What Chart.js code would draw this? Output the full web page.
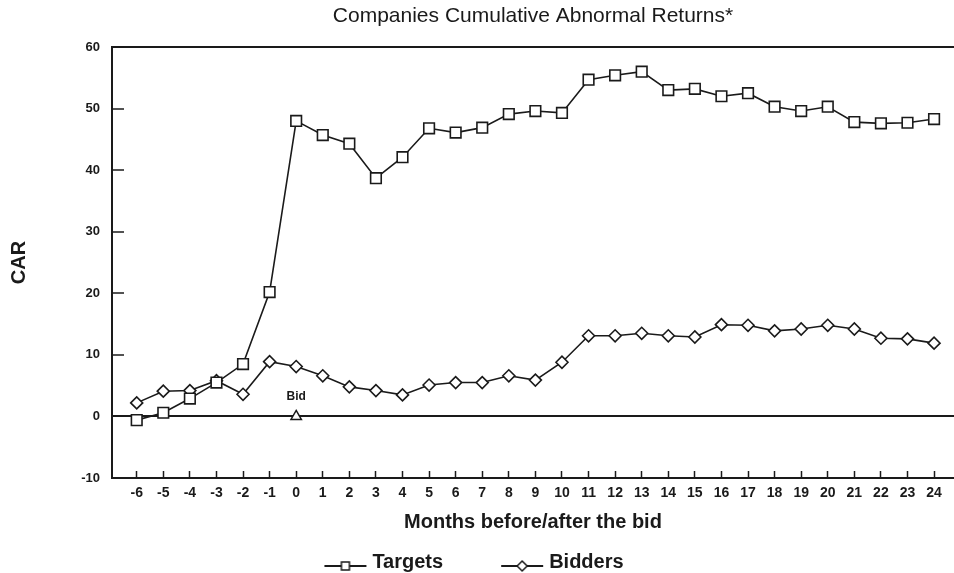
<!DOCTYPE html>
<html>
<head>
<meta charset="utf-8">
<script src="https://cdn.jsdelivr.net/npm/chart.js@4.4.1/dist/chart.umd.min.js"></script>
<style>
    html, body { margin: 0; padding: 0; background: #fff; }
</style>
</head>
<body>
<canvas id="car-chart" width="954" height="573"></canvas>
<script>
// months relative to the bid (0 = bid month)
const months = [-6, -5, -4, -3, -2, -1, 0, 1, 2, 3, 4, 5, 6, 7, 8, 9, 10, 11, 12, 13, 14, 15, 16, 17, 18, 19, 20, 21, 22, 23, 24];
// cumulative abnormal returns
const targetsCar = [-0.6, 0.6, 2.9, 5.5, 8.5, 20.2, 48.0, 45.7, 44.3, 38.7, 42.1, 46.8, 46.1, 46.9, 49.1, 49.6, 49.3, 54.7, 55.4, 56.0, 53.0, 53.2, 52.0, 52.5, 50.3, 49.6, 50.3, 47.8, 47.6, 47.7, 48.3];
const biddersCar = [2.2, 4.1, 4.2, 5.8, 3.6, 8.9, 8.1, 6.6, 4.8, 4.2, 3.5, 5.1, 5.5, 5.5, 6.6, 5.9, 8.8, 13.1, 13.1, 13.5, 13.1, 12.9, 14.9, 14.8, 13.9, 14.2, 14.8, 14.2, 12.7, 12.6, 11.9];
const yTicks = [-10, 0, 10, 20, 30, 40, 50, 60];
const seriesNames = ['Targets', 'Bidders'];
const bidMonth = 0;
const bidValue = 0;
const bidLabel = 'Bid';

const FONT = "'Liberation Sans', Arial, Helvetica, sans-serif";
const INK = '#1a1a1a';

// legend icons: short line with the marker on it, sitting just left of the text
function makeLegendIcon(shape) {
    const c = document.createElement('canvas');
    c.width = 60; c.height = 24;
    const g = c.getContext('2d');
    g.strokeStyle = INK; g.lineWidth = 2;
    g.beginPath(); g.moveTo(15, 16); g.lineTo(57, 16); g.stroke();
    g.fillStyle = '#fff'; g.lineWidth = 1.5;
    g.beginPath();
    if (shape === 'rect') {
        g.rect(32, 12, 8, 8);
    } else {
        g.moveTo(36, 11); g.lineTo(41, 16); g.lineTo(36, 21); g.lineTo(31, 16); g.closePath();
    }
    g.fill(); g.stroke();
    return c;
}
const legendIcons = [makeLegendIcon('rect'), makeLegendIcon('diamond')];

const toPoints = (vals) => months.map((m, i) => ({ x: m, y: vals[i] }));

const bidLabelPlugin = {
    id: 'bidLabel',
    afterDatasetsDraw(chart) {
        const { ctx, scales: { x, y } } = chart;
        ctx.save();
        ctx.font = `bold 12px ${FONT}`;
        ctx.fillStyle = INK;
        ctx.textAlign = 'center';
        ctx.textBaseline = 'middle';
        ctx.fillText(bidLabel, x.getPixelForValue(bidMonth), y.getPixelForValue(bidValue) - 20);
        ctx.restore();
    }
};

new Chart(document.getElementById('car-chart'), {
    type: 'line',
    data: {
        datasets: [{
            label: seriesNames[0],
            data: toPoints(targetsCar),
            borderColor: INK,
            borderWidth: 1.6,
            pointStyle: 'rect',
            pointRadius: 7.5,
            pointBorderWidth: 1.6,
            pointBackgroundColor: '#fff',
            pointBorderColor: INK,
            tension: 0
        }, {
            label: seriesNames[1],
            data: toPoints(biddersCar),
            borderColor: INK,
            borderWidth: 1.6,
            pointStyle: 'rectRot',
            pointRadius: 6,
            pointBorderWidth: 1.6,
            pointBackgroundColor: '#fff',
            pointBorderColor: INK,
            tension: 0
        }, {
            label: bidLabel,
            data: [{ x: bidMonth, y: bidValue }],
            showLine: false,
            pointStyle: 'triangle',
            pointRadius: 6,
            pointBorderWidth: 1.5,
            pointBackgroundColor: '#fff',
            pointBorderColor: INK
        }]
    },
    options: {
        responsive: false,
        animation: false,
        layout: {
            autoPadding: false,
            // negative left padding only moves the legend centre a bit to the left
            padding: { left: -14, top: 0, bottom: 0, right: 0 }
        },
        scales: {
            x: {
                type: 'linear',
                position: 'bottom',
                min: -6.93,
                max: 24.75,
                afterBuildTicks: (scale) => { scale.ticks = months.map(v => ({ value: v })); },
                afterFit: (scale) => { scale.height = 24; },
                ticks: {
                    autoSkip: false,
                    maxRotation: 0,
                    padding: 7,
                    color: INK,
                    font: { family: FONT, size: 14, weight: 'bold', lineHeight: 2.2 }
                },
                grid: {
                    drawOnChartArea: false,
                    drawTicks: true,
                    tickLength: -7,
                    tickColor: INK,
                    tickWidth: 1.5
                },
                border: { display: true, color: INK, width: 2 },
                title: {
                    display: true,
                    text: 'Months before/after the bid',
                    color: INK,
                    font: { family: FONT, size: 20, weight: 'bold' },
                    padding: { top: 0, bottom: -32 }
                }
            },
            x2: {
                type: 'linear',
                axis: 'x',
                position: 'top',
                afterFit: (scale) => { scale.height = 47; },
                ticks: { display: false },
                grid: { display: false },
                border: { display: false },
                title: {
                    display: true,
                    text: 'Companies Cumulative Abnormal Returns*',
                    color: INK,
                    font: { family: FONT, size: 21, weight: 'normal' },
                    padding: { top: 4, bottom: 0 }
                }
            },
            y: {
                min: -10,
                max: 60,
                afterBuildTicks: (scale) => { scale.ticks = yTicks.map(v => ({ value: v })); },
                afterFit: (scale) => { scale.width = 126; },
                ticks: {
                    padding: 24,
                    color: INK,
                    font: { family: FONT, size: 13, weight: 'bold' }
                },
                grid: {
                    color: (ctx) => (ctx.tick && (ctx.tick.value === 0 || ctx.tick.value === 60)) ? INK : 'rgba(0,0,0,0)',
                    lineWidth: 2,
                    drawTicks: true,
                    tickLength: -12,
                    tickColor: INK,
                    tickWidth: 1.5
                },
                border: { display: true, color: INK, width: 2 },
                title: {
                    display: true,
                    text: 'CAR',
                    color: INK,
                    font: { family: FONT, size: 20, weight: 'bold' },
                    padding: { top: 21, bottom: 0 }
                }
            }
        },
        plugins: {
            title: { display: false },
            tooltip: { enabled: false },
            legend: {
                position: 'bottom',
                maxHeight: 71,
                labels: {
                    usePointStyle: true,
                    pointStyleWidth: 46,
                    padding: 50,
                    color: INK,
                    font: { family: FONT, size: 20, weight: 'bold' },
                    filter: (item) => item.datasetIndex < 2,
                    generateLabels: (chart) => Chart.defaults.plugins.legend.labels.generateLabels(chart)
                        .map(item => ({ ...item, pointStyle: legendIcons[item.datasetIndex] || item.pointStyle }))
                }
            }
        }
    },
    plugins: [bidLabelPlugin]
});
</script>
</body>
</html>
